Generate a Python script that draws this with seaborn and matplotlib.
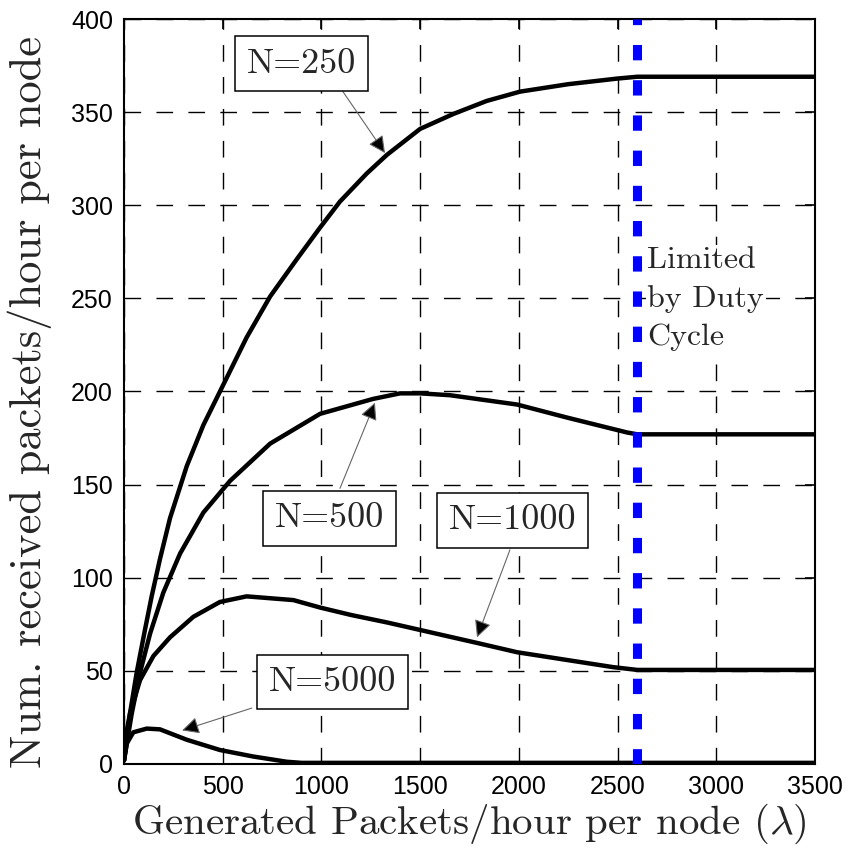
import matplotlib
matplotlib.use("Agg")
import matplotlib.pyplot as plt
import seaborn as sns

# curves (lambda in packets/hour, received packets/hour)
x_n250 = [0, 5, 30, 64, 106, 140, 182, 233, 318, 402, 486, 621, 740, 875, 993, 1094, 1229,
          1331, 1500, 1668, 1837, 2006, 2250, 2497, 2600, 3500]
y_n250 = [2, 13, 27, 49, 72, 90, 110, 132, 160, 182, 200, 229, 251, 271, 288, 302, 317,
          327, 341, 349, 356, 361, 365, 368, 369, 369]

x_n500 = [0, 39, 81, 132, 199, 284, 402, 537, 740, 993, 1261, 1398, 1500, 1651, 1991, 2244,
          2548, 2600, 3500]
y_n500 = [2, 27, 49, 70, 92, 113, 135, 152, 172, 188, 196, 199, 199, 198, 193, 186,
          178, 177, 177]

x_n1000 = [0, 30, 81, 149, 233, 351, 486, 621, 858, 993, 1150, 1332, 1788, 1991, 2477, 2600, 3500]
y_n1000 = [2, 27, 45, 58, 68, 79, 87, 90, 88, 84, 80, 76, 65, 60, 52, 50.5, 50.5]

x_n5000 = [0, 14, 47, 115, 182, 318, 486, 655, 824, 900, 3500]
y_n5000 = [2, 11, 17, 19, 18.6, 13, 7.5, 4, 1.2, 0.6, 0.6]

duty_cycle_limit = 2600
x_ticks = [0, 500, 1000, 1500, 2000, 2500, 3000, 3500]
y_ticks = [0, 50, 100, 150, 200, 250, 300, 350, 400]

sns.set_style("white")
plt.rcParams["mathtext.fontset"] = "cm"
plt.rcParams["font.family"] = ["Liberation Sans", "DejaVu Sans"]

SERIF = "cmr10"

fig = plt.figure(figsize=(8.53, 8.56), dpi=100)
ax = fig.add_axes([0.1454, 0.1075, 0.81, 0.8703])

for xs, ys in [(x_n250, y_n250), (x_n500, y_n500), (x_n1000, y_n1000), (x_n5000, y_n5000)]:
    sns.lineplot(x=xs, y=ys, ax=ax, color="black", linewidth=3.2, sort=False, zorder=3)

ax.axvline(duty_cycle_limit, color=(0, 0, 1), linewidth=6.5, linestyle=(0, (1.7, 2.2)), zorder=4)

ax.set_xlim(0, 3500)
ax.set_ylim(0, 400)
ax.set_xticks(x_ticks)
ax.set_yticks(y_ticks)
ax.grid(True, color="black", linestyle=(0, (12, 11)), linewidth=1.0)
ax.set_axisbelow(True)
for sp in ax.spines.values():
    sp.set_linewidth(1.5)
    sp.set_color("black")
ax.tick_params(direction="in", length=7, width=1.2, top=True, right=True,
               labelsize=18, pad=8, colors="black")

ax.set_xlabel(r"Generated Packets/hour per node ($\lambda$)", family=SERIF, fontsize=29.5, labelpad=2)
ax.set_ylabel("Num. received packets/hour per node", family=SERIF, fontsize=32)
ax.yaxis.set_label_coords(-0.104, 0.486)

box = dict(boxstyle="square,pad=0.32", facecolor="white", edgecolor="black", linewidth=1.1)
labels = [
    ("N=250", (899, 376), (1109, 361), (1322, 328)),
    ("N=500", (1041, 132), (1094, 148), (1271, 194)),
    ("N=1000", (1968, 130.7), (1955, 115), (1788, 68)),
    ("N=5000", (1056, 44), (647, 30), (294, 18)),
]
for txt, center, start, tip in labels:
    ax.annotate("", xy=tip, xytext=start,
                arrowprops=dict(arrowstyle="-|>", edgecolor="0.4", facecolor="black",
                                linewidth=0.8, mutation_scale=26, shrinkA=0, shrinkB=0),
                zorder=5)
    ax.text(center[0], center[1], txt, family=SERIF, fontsize=26, ha="center", va="center",
            bbox=box, zorder=6)

ax.text(2650, 278, "Limited\nby Duty\nCycle", family=SERIF, fontsize=23, ha="left",
        va="top", linespacing=1.5, zorder=6,
        bbox=dict(boxstyle="square,pad=0.05", facecolor="white", edgecolor="none"))

fig.savefig("out.png", dpi=100)
